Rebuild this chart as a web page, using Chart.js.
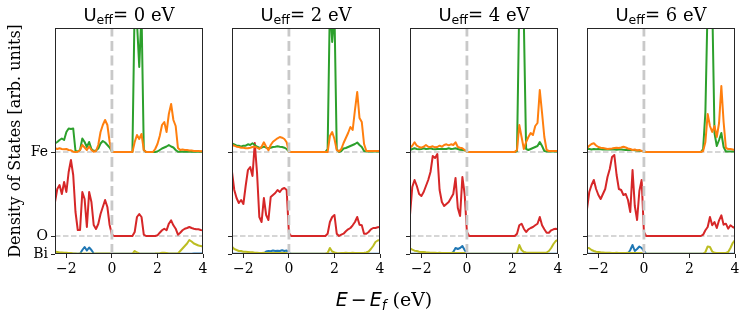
<!DOCTYPE html>
<html lang="en">
<head>
<meta charset="utf-8">
<title>Density of States vs U_eff</title>
<script src="https://cdn.jsdelivr.net/npm/chart.js@4.4.1/dist/chart.umd.min.js"></script>
<style>
html,body{margin:0;padding:0;background:#fff;}
#fig{position:relative;width:748px;height:316px;overflow:hidden;background:#fff;}
#fig canvas{position:absolute;left:0;top:0;}
.ptitle{position:absolute;top:4px;height:22px;line-height:22px;font-size:18px;color:#000;white-space:nowrap;transform:translateX(-50%);}
.ptitle .m{font-family:'DejaVu Sans',sans-serif;}
.ptitle .m sub{font-size:12.5px;vertical-align:-3px;line-height:0;}
.ptitle .t{font-family:'DejaVu Serif',serif;}
#xlabel{position:absolute;top:288px;height:22px;line-height:22px;font-size:19px;color:#000;white-space:nowrap;transform:translateX(-50%);}
#xlabel .m{font-family:'DejaVu Sans',sans-serif;}
#xlabel .m i{font-style:oblique;}
#xlabel .op{margin:0 3px;}
#xlabel sub{font-size:13.5px;vertical-align:-4px;line-height:0;}
#xlabel .t{font-family:'DejaVu Serif',serif;}
</style>
</head>
<body>
<div id="fig"></div>
<script>
// ---------------- data ----------------
const energy = [-2.5,-2.4,-2.3,-2.2,-2.1,-2.0,-1.9,-1.8,-1.7,-1.6,
  -1.5,-1.4,-1.3,-1.2,-1.1,-1.0,-0.9,-0.8,-0.7,-0.6,
  -0.5,-0.4,-0.3,-0.2,-0.1,0.0,
  0.1,0.2,0.3,0.4,0.5,0.6,0.7,0.8,0.9,1.0,
  1.1,1.2,1.3,1.4,1.5,1.6,1.7,1.8,1.9,2.0,
  2.1,2.2,2.3,2.4,2.5,2.6,2.7,2.8,2.9,3.0,
  3.1,3.2,3.3,3.4,3.5,3.6,3.7,3.8,3.9,4.0];

const ueffValues = [0, 2, 4, 6];
const fermiEnergy = 0;
const xTickValues = [-2, 0, 2, 4];
const xTickLabels = ['\u22122', '0', '2', '4'];
const yTickLabels = ['Bi', 'O', 'Fe'];
const speciesOffsets = [0, 1.8, 10.2];   // Bi, O, Fe baselines (arb. units)
const xLimits = [-2.5, 4];
const yLimits = [0, 22.6];

// U_eff = 0 eV
const feGreenU0 = [0.87,1.0,1.2,1.35,1.2,2.0,2.35,2.3,2.35,0.1,
  0.05,0.2,1.35,1.0,0.5,1.0,0.3,0.1,0.15,0.35,
  0.85,1.1,0.95,0.7,0.45,0.05,
  0,0,0,0,0,0,0,0,0,15,
  13,8.5,14,0.2,0,0,0,0,0,0.05,
  0.2,0.35,0.45,0.55,0.7,0.55,0.45,0.2,0.03,0.02,
  0.02,0.02,0.02,0.02,0.02,0.02,0.02,0.02,0.02,0.02];
const feOrangeU0 = [0.37,0.3,0.37,0.3,0.27,0.3,0.2,0.17,0.03,0,
  0.03,0.2,0.7,0.45,0.2,0.55,0.2,0.03,0.1,0.7,
  2.0,2.7,3.2,2.7,1.0,0.03,
  0,0,0,0,0,0,0,0,0,1.0,
  1.7,1.3,1.8,0.2,0,0,0,0,0.3,0.8,
  1.6,2.7,3.0,2.0,3.8,4.8,3.2,2.6,0.4,0.2,
  0.25,0.2,0.2,0.15,0.15,0.1,0.1,0.1,0.08,0.08];
const oRedU0 = [3.4,4.7,5.1,4.2,5.4,4.4,6.4,7.6,6.1,2.4,
  0.6,0.6,4.4,3.7,0.9,4.4,3.4,1.1,0.7,1.2,
  2.2,2.9,3.6,2.9,1.1,0.13,
  0,0,0,0,0,0,0,0,0,0.4,
  1.9,2.2,1.9,0.13,0,0,0,0,0,0.07,
  0.33,0.57,0.73,0.57,1.23,1.57,1.07,0.73,0.13,0.33,
  0.57,0.73,0.8,0.9,0.8,0.73,0.67,0.67,0.6,0.57];
const biOliveU0 = [0.25,0.2,0.15,0.15,0.12,0.12,0.1,0.1,0.05,0.04,
  0.03,0.04,0.03,0.05,0.03,0.04,0.03,0.03,0.05,0.04,
  0.04,0.06,0.05,0.04,0.05,0.03,
  0.02,0.02,0.02,0.02,0.02,0.02,0.02,0.02,0.02,0.3,
  0.15,0.05,0.03,0.03,0.03,0.03,0.03,0.03,0.04,0.06,
  0.08,0.12,0.12,0.1,0.06,0.05,0.05,0.04,0.05,0.3,
  0.55,0.8,1.05,1.4,1.25,1.05,0.95,0.85,0.8,0.75];
const biBlueU0 = [0.02,0.02,0.02,0.02,0.02,0.02,0.02,0.02,0.02,0.02,
  0.02,0.03,0.4,0.7,0.35,0.65,0.4,0.05,0.02,0.02,
  0.02,0.02,0.02,0.02,0.02,0.02,
  0.02,0.02,0.02,0.02,0.02,0.02,0.02,0.02,0.02,0.02,
  0.02,0.02,0.02,0.02,0.02,0.02,0.02,0.02,0.02,0.02,
  0.02,0.02,0.02,0.02,0.02,0.02,0.02,0.02,0.02,0.02,
  0.02,0.02,0.02,0.03,0.03,0.04,0.04,0.04,0.04,0.04];

// U_eff = 2 eV
const feGreenU2 = [0.87,0.77,0.63,0.63,0.53,0.63,0.63,0.77,0.7,0.87,
  0.7,0.53,0.43,0.43,0.53,0.43,0.37,0.43,0.5,0.53,
  0.57,0.53,0.5,0.43,0.3,0.05,
  0,0,0,0,0,0,0,0,0,0,
  0,0,0,0,0,0,0.3,15,11,14,
  0.3,0,0.1,0.35,0.4,0.5,0.6,0.7,0.8,0.95,
  0.7,0.5,0.1,0.05,0.05,0.05,0.05,0.05,0.05,0.05];
const feOrangeU2 = [0.7,0.63,0.53,0.5,0.43,0.43,0.37,0.37,0.43,0.5,
  0.53,0.43,0.3,0.53,0.97,0.53,0.17,0.7,1.03,1.2,
  1.37,1.5,1.43,1.3,0.97,0.03,
  0,0,0,0,0,0,0,0,0,0,
  0,0,0,0,0,0,0,1.6,2.0,1.3,
  0.2,0.05,0.3,0.9,1.4,1.9,2.5,2.2,4.2,6.0,
  3.4,3.0,0.8,0.1,0.1,0.1,0.1,0.1,0.1,0.1];
const oRedU2 = [6.4,4.6,3.8,3.3,3.6,3.2,5.0,6.6,6.9,6.0,
  9.3,6.3,1.9,1.4,3.8,2.1,1.6,3.9,4.1,4.3,
  4.6,4.4,4.7,4.8,4.6,0.3,
  0,0,0,0,0,0,0,0,0,0,
  0,0,0,0,0,0,0.23,1.4,1.9,2.1,
  0.23,0,0.13,0.23,0.47,0.67,0.8,1.07,1.4,1.9,
  1.13,1.07,0.23,0.23,0.4,0.67,0.8,0.8,0.87,0.9];
const biOliveU2 = [0.73,0.5,0.4,0.3,0.3,0.23,0.23,0.2,0.17,0.17,
  0.13,0.12,0.1,0.1,0.12,0.1,0.1,0.11,0.1,0.1,
  0.1,0.11,0.1,0.1,0.1,0.05,
  0.03,0.03,0.03,0.03,0.03,0.03,0.03,0.03,0.03,0.03,
  0.03,0.03,0.03,0.03,0.03,0.03,0.1,0.6,0.25,0.15,
  0.1,0.08,0.1,0.1,0.12,0.1,0.1,0.12,0.1,0.1,
  0.1,0.1,0.12,0.15,0.25,0.5,0.8,1.2,1.35,1.4];
const biBlueU2 = [0.02,0.02,0.02,0.02,0.02,0.02,0.02,0.02,0.02,0.02,
  0.02,0.02,0.02,0.02,0.05,0.25,0.3,0.28,0.35,0.3,
  0.33,0.3,0.38,0.3,0.35,0.1,
  0.02,0.02,0.02,0.02,0.02,0.02,0.02,0.02,0.02,0.02,
  0.02,0.02,0.02,0.02,0.02,0.02,0.02,0.02,0.02,0.02,
  0.02,0.02,0.02,0.02,0.02,0.02,0.02,0.02,0.02,0.02,
  0.02,0.02,0.02,0.02,0.02,0.02,0.02,0.03,0.03,0.03];

// U_eff = 4 eV
const feGreenU4 = [0.2,0.3,0.37,0.3,0.27,0.3,0.37,0.3,0.33,0.37,
  0.3,0.27,0.3,0.3,0.33,0.3,0.3,0.37,0.3,0.33,
  0.37,0.3,0.23,0.2,0.17,0.03,
  0,0,0,0,0,0,0,0,0,0,
  0,0,0,0,0,0,0,0,0,0,
  0,0.1,15,14,13,0.3,0.2,0.3,0.4,0.5,
  0.6,1.0,0.6,0.1,0.05,0.05,0.05,0.05,0.05,0.05];
const feOrangeU4 = [0.43,0.63,0.97,0.63,0.5,0.43,0.53,0.7,0.53,0.5,
  0.57,0.47,0.5,0.63,0.53,0.7,0.77,0.67,0.77,0.7,
  0.97,0.5,0.43,0.37,0.2,0.03,
  0,0,0,0,0,0,0,0,0,0,
  0,0,0,0,0,0,0,0,0,0,
  0,0.2,2.7,1.5,0.3,1.0,1.5,1.9,1.7,2.6,
  2.9,6.2,3.9,1.5,0.2,0.1,0.1,0.1,0.1,0.1];
const oRedU4 = [2.1,4.9,5.6,5.0,4.2,4.0,4.4,5.0,5.6,6.4,
  8.0,7.8,8.2,4.6,3.4,3.0,3.2,3.4,3.8,4.2,
  5.8,2.8,2.0,5.9,4.2,0.4,
  0,0,0,0,0,0,0,0,0,0,
  0,0,0,0,0,0,0,0,0,0,
  0,0.23,1.07,1.23,0.73,0.4,0.67,0.8,0.9,1.07,
  1.23,1.9,1.07,0.67,0.33,0.33,0.57,0.67,0.73,0.67];
const biOliveU4 = [0.57,0.43,0.33,0.3,0.23,0.2,0.2,0.17,0.15,0.13,
  0.12,0.12,0.1,0.12,0.1,0.1,0.11,0.1,0.1,0.12,
  0.1,0.1,0.1,0.1,0.1,0.05,
  0.03,0.03,0.03,0.03,0.03,0.03,0.03,0.03,0.03,0.03,
  0.03,0.03,0.03,0.03,0.03,0.03,0.03,0.03,0.03,0.03,
  0.03,0.1,0.9,0.4,0.2,0.15,0.12,0.12,0.12,0.12,
  0.12,0.12,0.12,0.12,0.15,0.3,0.6,1.0,1.3,1.4];
const biBlueU4 = [0.02,0.02,0.02,0.02,0.02,0.02,0.02,0.02,0.02,0.02,
  0.02,0.02,0.02,0.02,0.02,0.02,0.02,0.02,0.02,0.2,
  0.6,0.5,0.6,0.8,0.4,0.05,
  0.02,0.02,0.02,0.02,0.02,0.02,0.02,0.02,0.02,0.02,
  0.02,0.02,0.02,0.02,0.02,0.02,0.02,0.02,0.02,0.02,
  0.02,0.02,0.02,0.02,0.02,0.02,0.02,0.02,0.02,0.02,
  0.02,0.02,0.02,0.02,0.02,0.02,0.02,0.02,0.02,0.02];

// U_eff = 6 eV
const feGreenU6 = [0.3,0.3,0.25,0.3,0.28,0.3,0.27,0.25,0.27,0.25,
  0.25,0.27,0.25,0.23,0.25,0.25,0.23,0.2,0.2,0.2,
  0.2,0.17,0.15,0.12,0.1,0.05,
  0,0,0,0,0,0,0,0,0,0,
  0,0,0,0,0,0,0,0,0,0,
  0,0,0,0,0,0.3,4.0,15,13,15,
  1.9,0.6,1.2,1.9,0.5,0.05,0.05,0.05,0.05,0.05];
const feOrangeU6 = [0.37,0.63,0.8,0.87,0.65,0.5,0.43,0.4,0.35,0.3,
  0.33,0.35,0.4,0.43,0.4,0.45,0.53,0.45,0.35,0.3,
  0.2,0.25,0.15,0.2,0.1,0.05,
  0,0,0,0,0,0,0,0,0,0,
  0,0,0,0,0,0,0,0,0,0,
  0,0,0,0,0,0.1,1.0,3.8,2.6,2.0,
  2.6,1.5,2.9,6.6,3.0,0.4,0.3,0.3,0.25,0.2];
const oRedU6 = [2.7,4.4,5.1,5.6,4.7,4.1,3.7,4.2,4.7,5.9,
  6.7,7.9,8.1,6.1,4.7,4.6,4.1,4.2,3.6,2.4,
  6.6,3.0,1.6,4.5,5.6,0.4,
  0,0,0,0,0,0,0,0,0,0,
  0,0,0,0,0,0,0,0,0,0,
  0,0,0,0,0,0.13,0.57,0.9,1.9,1.07,
  1.4,0.8,1.57,2.07,1.13,1.23,0.73,1.07,0.9,0.8];
const biOliveU6 = [0.63,0.57,0.4,0.3,0.23,0.2,0.17,0.15,0.13,0.12,
  0.12,0.1,0.1,0.12,0.1,0.1,0.1,0.1,0.12,0.1,
  0.1,0.1,0.1,0.1,0.1,0.05,
  0.03,0.03,0.03,0.03,0.03,0.03,0.03,0.03,0.03,0.03,
  0.03,0.03,0.03,0.03,0.03,0.03,0.03,0.03,0.03,0.03,
  0.03,0.03,0.03,0.03,0.03,0.03,0.2,0.75,0.7,0.25,
  0.12,0.1,0.1,0.1,0.1,0.1,0.2,0.6,1.1,1.4];
const biBlueU6 = [0.02,0.02,0.02,0.02,0.02,0.02,0.02,0.02,0.02,0.02,
  0.02,0.02,0.02,0.02,0.02,0.02,0.02,0.02,0.05,0.4,
  0.9,0.3,0.5,0.75,0.6,0.3,
  0.02,0.02,0.02,0.02,0.02,0.02,0.02,0.02,0.02,0.02,
  0.02,0.02,0.02,0.02,0.02,0.02,0.02,0.02,0.02,0.02,
  0.02,0.02,0.02,0.02,0.02,0.02,0.02,0.02,0.02,0.02,
  0.02,0.02,0.02,0.02,0.02,0.02,0.02,0.02,0.02,0.02];

const panelSeries = [
  [feOrangeU0, feGreenU0, oRedU0, biOliveU0, biBlueU0],
  [feOrangeU2, feGreenU2, oRedU2, biOliveU2, biBlueU2],
  [feOrangeU4, feGreenU4, oRedU4, biOliveU4, biBlueU4],
  [feOrangeU6, feGreenU6, oRedU6, biOliveU6, biBlueU6]
];
const seriesSpecies = [2, 2, 1, 0, 0];   // index into speciesOffsets
const seriesColors = ['#ff7f0e', '#2ca02c', '#d62728', '#bcbd22', '#1f77b4'];

// ---------------- layout ----------------
const panelLeft = [55, 232, 410, 587];
const panelWidth = 148;
const plotTop = 28, plotBottom = 254;
const figW = 748, figH = 316;
const yAxisW = 55, xAxisH = 30;
const xLabelCenter = 384;
const refColor = '#c9c9c9';
const spineColor = '#262626';

const framePlugin = {
  id: 'frame',
  afterDraw(chart) {
    const {ctx, chartArea: a} = chart;
    ctx.save();
    ctx.strokeStyle = spineColor;
    ctx.lineWidth = 1;
    ctx.strokeRect(a.left + 0.5, a.top + 0.5, a.right - a.left - 1, a.bottom - a.top - 1);
    ctx.restore();
  }
};

const fig = document.getElementById('fig');

ueffValues.forEach((u, p) => {
  const canvas = document.createElement('canvas');
  canvas.width = figW; canvas.height = figH;
  canvas.style.width = figW + 'px'; canvas.style.height = figH + 'px';
  fig.appendChild(canvas);

  const datasets = [];
  // vertical Fermi-level line (on top)
  datasets.push({
    data: [{x: fermiEnergy, y: yLimits[0]}, {x: fermiEnergy, y: yLimits[1]}],
    borderColor: refColor, borderWidth: 2.8, borderDash: [10, 4.5], clip: 0
  });
  panelSeries[p].forEach((vals, s) => {
    const off = speciesOffsets[seriesSpecies[s]];
    datasets.push({
      data: energy.map((e, i) => ({x: e, y: off + vals[i]})),
      borderColor: seriesColors[s], borderWidth: 2, clip: 0,
      borderJoinStyle: 'round', borderCapStyle: 'butt'
    });
  });
  // horizontal baselines of Fe and O (underneath)
  [2, 1].forEach(k => {
    datasets.push({
      data: [{x: xLimits[0], y: speciesOffsets[k]}, {x: xLimits[1], y: speciesOffsets[k]}],
      borderColor: refColor, borderWidth: 1.6, borderDash: [5.5, 2.5], clip: 0
    });
  });

  new Chart(canvas, {
    type: 'line',
    data: {datasets},
    plugins: [framePlugin],
    options: {
      responsive: false, animation: false, devicePixelRatio: 1,
      events: [],
      layout: {padding: {
        left: panelLeft[p] - yAxisW,
        right: figW - (panelLeft[p] + panelWidth),
        top: plotTop,
        bottom: figH - plotBottom - xAxisH
      }},
      elements: {point: {radius: 0, hoverRadius: 0}, line: {tension: 0, fill: false}},
      plugins: {legend: {display: false}, tooltip: {enabled: false}, title: {display: false}},
      scales: {
        x: {
          type: 'linear', min: xLimits[0], max: xLimits[1],
          afterBuildTicks: sc => { sc.ticks = xTickValues.map(v => ({value: v})); },
          afterFit: sc => { sc.height = xAxisH; },
          ticks: {
            font: {family: "'DejaVu Serif', serif", size: 14}, color: '#000', padding: 3,
            maxRotation: 0, autoSkip: false,
            callback: (v, i) => xTickLabels[i]
          },
          grid: {display: true, drawOnChartArea: false, drawTicks: true, tickLength: 4,
                 color: spineColor, tickColor: spineColor, lineWidth: 1},
          border: {display: false}
        },
        y: {
          type: 'linear', min: yLimits[0], max: yLimits[1],
          afterBuildTicks: sc => { sc.ticks = speciesOffsets.map(v => ({value: v})); },
          afterFit: sc => { sc.width = yAxisW; },
          ticks: {
            font: {family: "'DejaVu Serif', serif", size: 14}, color: '#000', padding: 3,
            autoSkip: false,
            callback: (v, i) => (p === 0 ? yTickLabels[i] : '')
          },
          grid: {display: true, drawOnChartArea: false, drawTicks: true, tickLength: 4,
                 color: spineColor, tickColor: spineColor, lineWidth: 1},
          border: {display: false},
          title: {
            display: p === 0, text: 'Density of States [arb. units]', color: '#000',
            font: {family: "'DejaVu Serif', serif", size: 16}, padding: {top: 6, bottom: 0}
          }
        }
      }
    }
  });

  const t = document.createElement('div');
  t.className = 'ptitle';
  t.style.left = (panelLeft[p] + panelWidth / 2) + 'px';
  t.innerHTML = '<span class="m">U<sub>eff</sub></span><span class="t">= ' + u + ' eV</span>';
  fig.appendChild(t);
});

const xl = document.createElement('div');
xl.id = 'xlabel';
xl.style.left = xLabelCenter + 'px';
xl.innerHTML = '<span class="m"><i>E</i><span class="op">\u2212</span><i>E</i><sub><i>f</i></sub></span><span class="t"> (eV)</span>';
fig.appendChild(xl);
</script>
</body>
</html>
